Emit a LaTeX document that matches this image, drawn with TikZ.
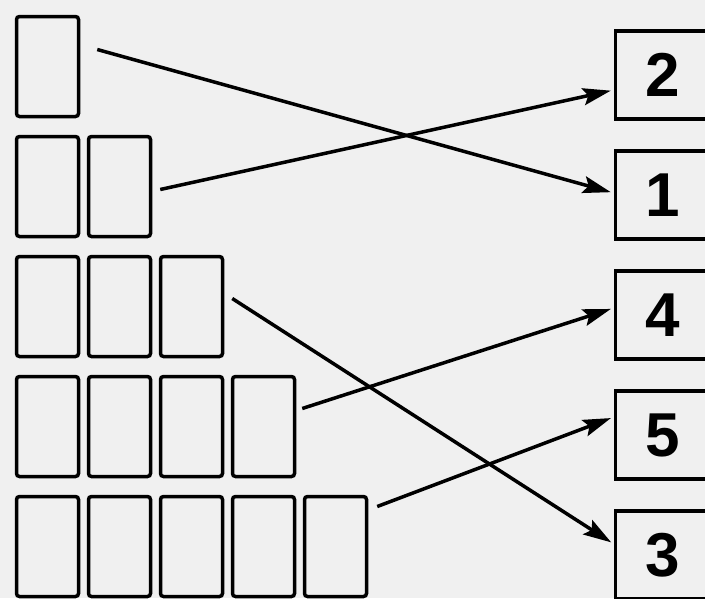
\documentclass[tikz,border=0pt]{standalone}
\usepackage{fontspec}
\setmainfont{Liberation Sans}
\usetikzlibrary{arrows.meta}
\tikzset{
  card/.style={draw, line width=3.5pt, rounded corners=3pt, minimum width=62pt, minimum height=100pt, inner sep=0pt},
  numbox/.style={draw, line width=3.5pt, minimum width=95pt, minimum height=88pt, inner sep=0pt, font=\fontsize{62}{66}\selectfont\bfseries},
  link/.style={line width=3.5pt, shorten >=3pt, -{Stealth[length=28pt,width=17pt,inset=5pt]}}
}
\begin{document}
\begin{tikzpicture}[x=1pt, y=-1pt]

    % Page
    \useasboundingbox[fill=black!6] (0,0) rectangle (705,598);

    % Rows of cards: row r holds r cards
    \foreach \r in {1,...,5}
        \foreach \c in {1,...,\r}
            \node[card] (r\r-\c) at ({47.5+72*(\c-1)}, {66.5+120*(\r-1)}) {};

    % Number boxes on the right
    \foreach \n/\k in {2/1, 1/2, 4/3, 5/4, 3/5}
        \node[numbox] (n\n) at (663, {75+120*(\k-1)}) {\n};

    % Starts of the links
    \coordinate (s1) at ([xshift=17pt, yshift=17pt]r1-1.east);
    \coordinate (s2) at ([xshift=8pt, yshift=-3pt]r2-2.east);
    \coordinate (s3) at ([xshift=8pt, yshift=8pt]r3-3.east);
    \coordinate (s4) at ([xshift=6pt, yshift=18pt]r4-4.east);
    \coordinate (s5) at ([xshift=9pt, yshift=40pt]r5-5.east);

    % Links
    \draw[link] (s1) -- ([yshift=2pt]n1.west);
    \draw[link] (s2) -- ([yshift=-15pt]n2.west);
    \draw[link] (s3) -- ([yshift=11pt]n3.west);
    \draw[link] (s4) -- ([yshift=7pt]n4.west);
    \draw[link] (s5) -- ([yshift=18pt]n5.west);

\end{tikzpicture}
\end{document}
